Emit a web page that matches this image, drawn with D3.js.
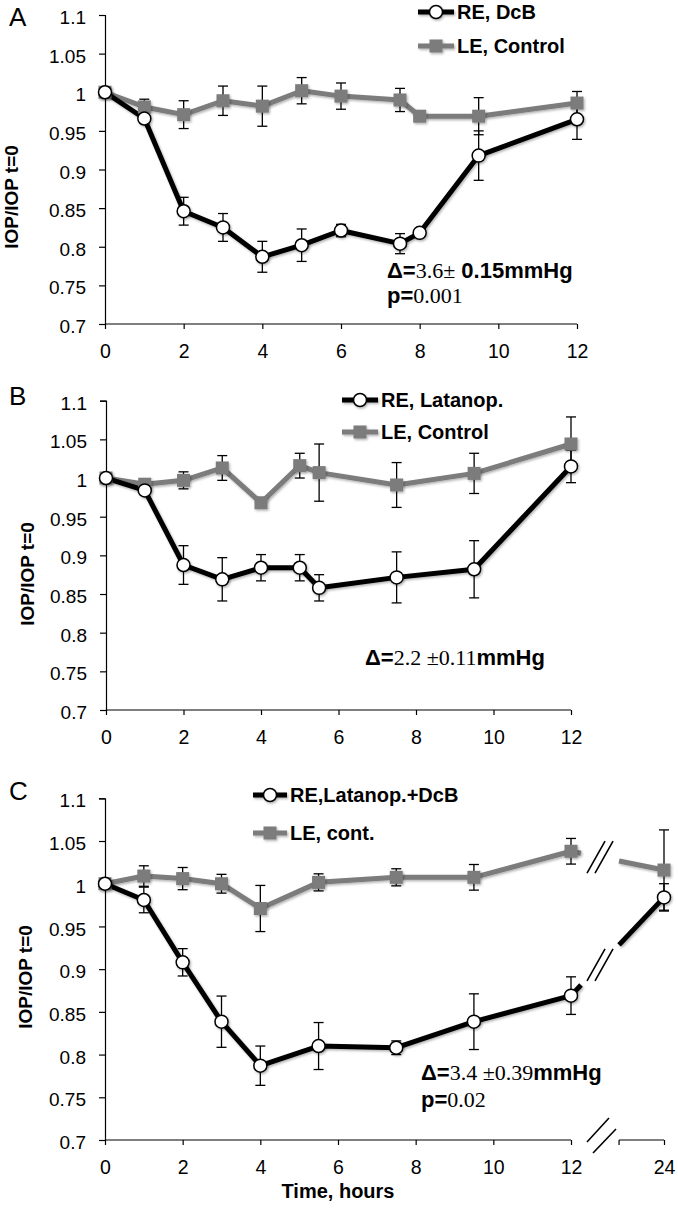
<!DOCTYPE html>
<html>
<head>
<meta charset="utf-8">
<script src="https://cdn.jsdelivr.net/npm/d3@7"></script>
<style>
  html, body { margin: 0; padding: 0; background: #fff; }
  svg { display: block; }
  .tick text { font-family: "Liberation Sans", Arial, sans-serif; fill: #000; }
</style>
</head>
<body>
<svg id="chart" width="678" height="1208"></svg>
<script>
// ---------------- DATA ----------------
const yTicks = [0.7, 0.75, 0.8, 0.85, 0.9, 0.95, 1, 1.05, 1.1];
const xTicks = [0, 2, 4, 6, 8, 10, 12];
const xTicksC = [0, 2, 4, 6, 8, 10, 12, 24];

// Panel A
const timeA = [0, 1, 2, 3, 4, 5, 6, 7.5, 8, 9.5, 12];
const reA = [1.0, 0.966, 0.846, 0.825, 0.787, 0.802, 0.821, 0.804, 0.818, 0.918, 0.965];
const reAErr = [0, 0, 0.018, 0.018, 0.02, 0.021, 0.008, 0.013, 0, 0.032, 0.026];
const leA = [1.0, 0.981, 0.971, 0.989, 0.982, 1.002, 0.995, 0.990, 0.969, 0.969, 0.986];
const leAErr = [0, 0.01, 0.018, 0.019, 0.026, 0.017, 0.017, 0.015, 0, 0.024, 0.015];
const legendA = ["RE, DcB", "LE, Control"];

// Panel B
const timeB = [0, 1, 2, 3, 4, 5, 5.5, 7.5, 9.5, 12];
const reB = [1.0, 0.984, 0.8875, 0.869, 0.884, 0.884, 0.858, 0.8715, 0.882, 1.015];
const reBErr = [0, 0, 0.025, 0.028, 0.017, 0.017, 0.017, 0.033, 0.037, 0.021];
const leB = [1.0, 0.992, 0.997, 1.013, 0.968, 1.016, 1.007, 0.991, 1.006, 1.044];
const leBErr = [0, 0, 0.011, 0.016, 0, 0.016, 0.037, 0.029, 0.026, 0.035];
const legendB = ["RE, Latanop.", "LE, Control"];

// Panel C
const timeC = [0, 1, 2, 3, 4, 5.5, 7.5, 9.5, 12, 24];
const reC = [1.0, 0.981, 0.908, 0.8385, 0.787, 0.81, 0.808, 0.8385, 0.869, 0.984];
const reCErr = [0, 0.015, 0.016, 0.030, 0.023, 0.0275, 0.008, 0.0326, 0.022, 0.016];
const leC = [1.0, 1.009, 1.006, 1.0, 0.971, 1.0016, 1.0075, 1.0075, 1.038, 1.016];
const leCErr = [0, 0.012, 0.013, 0.011, 0.027, 0.01, 0.01, 0.015, 0.015, 0.047];
const legendC = ["RE,Latanop.+DcB", "LE, cont."];

const yLabel = "IOP/IOP t=0";
const xLabel = "Time, hours";

// ---------------- STYLE ----------------
const SANS = '"Liberation Sans", Arial, Helvetica, sans-serif';
const SERIF = '"Liberation Serif", "Times New Roman", serif';
const GRAY = "#7b7b7b";

const svg = d3.select("#chart");
const defs = svg.append("defs");
const f = defs.append("filter").attr("id", "shadow").attr("filterUnits", "userSpaceOnUse")
  .attr("x", 0).attr("y", 0).attr("width", 678).attr("height", 1208);
f.append("feDropShadow").attr("dx", 1.2).attr("dy", 1.5).attr("stdDeviation", 1.2)
  .attr("flood-color", "#000").attr("flood-opacity", 0.3);

function zip(t, v, e) { return t.map((d, i) => ({ t: d, v: v[i], e: e[i] })); }

function drawPanel(cfg) {
  const g = svg.append("g");
  const x = cfg.x, y = cfg.y;
  const x0 = x.range()[0], xEnd = cfg.axisEnd;
  const yB = y.range()[0];

  // Y axis
  const ya = g.append("g").attr("transform", `translate(${x0},0)`)
    .call(d3.axisLeft(y).tickValues(yTicks).tickSize(6).tickPadding(13)
      .tickFormat(d => String(+d.toFixed(2))));
  ya.selectAll("text").attr("font-size", 19).attr("dy", "0.45em");
  ya.selectAll("path,line").attr("stroke", "#000").attr("stroke-width", 1.2);

  // X axis
  const xa = g.append("g").attr("transform", `translate(0,${yB})`)
    .call(d3.axisBottom(x).tickValues(cfg.xTicks).tickSize(5).tickPadding(15.5).tickSizeOuter(0));
  xa.selectAll("text").attr("font-size", 19.5);
  xa.selectAll("path,line").attr("stroke", "#000").attr("stroke-width", 1.2);
  xa.select(".domain").remove();
  xa.append("line").attr("x1", x0).attr("x2", xEnd).attr("y1", 0).attr("y2", 0)
    .attr("stroke", "#000").attr("stroke-width", 1.2);

  if (cfg.broken) {
    const xr = x(cfg.breakResume);
    const x24 = x(24);
    const xb = x(12);
    xa.append("line").attr("x1", xr).attr("x2", x24).attr("y1", 0).attr("y2", 0)
      .attr("stroke", "#000").attr("stroke-width", 1.2);
    xa.append("line").attr("x1", xr).attr("x2", xr).attr("y1", 0).attr("y2", 5)
      .attr("stroke", "#000").attr("stroke-width", 1.2);
    // break slashes on axis
    [[16, 2, 38, -22], [22, 13, 45, -11]].forEach(s => {
      xa.append("line").attr("x1", xb + s[0]).attr("y1", s[1]).attr("x2", xb + s[2]).attr("y2", s[3])
        .attr("stroke", "#000").attr("stroke-width", 1.6);
    });
  }

  const series = [
    { data: zip(cfg.time, cfg.le, cfg.leErr), color: GRAY, marker: "square" },
    { data: zip(cfg.time, cfg.re, cfg.reErr), color: "#000", marker: "circle" }
  ];

  const line = d3.line().x(d => x(d.t)).y(d => y(d.v));

  series.forEach(s => {
    let pts = s.data;
    if (cfg.broken) {
      const main = pts.filter(d => d.t <= 12);
      g.append("path").attr("d", line(main)).attr("fill", "none")
        .attr("stroke", s.color).attr("stroke-width", 5).attr("stroke-linejoin", "round")
        .attr("filter", "url(#shadow)");
      // broken segment 12 -> 24
      const a = pts.find(d => d.t === 12), b = pts.find(d => d.t === 24);
      const ax = x(a.t), ay = y(a.v), bx = x(b.t), by = y(b.v);
      const lerp = px => ay + (by - ay) * (px - ax) / (bx - ax);
      const gap1 = ax + 10, gap2 = x(cfg.breakResume);
      g.append("line").attr("x1", ax).attr("y1", ay).attr("x2", gap1).attr("y2", lerp(gap1))
        .attr("stroke", s.color).attr("stroke-width", 5).attr("filter", "url(#shadow)");
      g.append("line").attr("x1", gap2).attr("y1", lerp(gap2)).attr("x2", bx).attr("y2", by)
        .attr("stroke", s.color).attr("stroke-width", 5).attr("filter", "url(#shadow)");
      const cx = (gap1 + gap2) / 2, cy = lerp(cx);
      [-4, 4].forEach(o => {
        g.append("line").attr("x1", cx + o - 9).attr("y1", cy + 16).attr("x2", cx + o + 9).attr("y2", cy - 16)
          .attr("stroke", "#000").attr("stroke-width", 1.6);
      });
    } else {
      g.append("path").attr("d", line(pts)).attr("fill", "none")
        .attr("stroke", s.color).attr("stroke-width", 5).attr("stroke-linejoin", "round")
        .attr("filter", "url(#shadow)");
    }
  });

  // error bars
  series.forEach(s => {
    const eb = g.append("g").attr("stroke", "#000").attr("stroke-width", 1.3);
    s.data.filter(d => d.e > 0).forEach(d => {
      const cx = x(d.t), y1 = y(d.v + d.e), y2 = y(d.v - d.e);
      eb.append("line").attr("x1", cx).attr("x2", cx).attr("y1", y1).attr("y2", y2);
      eb.append("line").attr("x1", cx - 5).attr("x2", cx + 5).attr("y1", y1).attr("y2", y1);
      eb.append("line").attr("x1", cx - 5).attr("x2", cx + 5).attr("y1", y2).attr("y2", y2);
    });
  });

  // markers
  series.forEach(s => {
    const mg = g.append("g").attr("filter", "url(#shadow)");
    s.data.forEach(d => {
      if (s.marker === "square") {
        mg.append("rect").attr("x", x(d.t) - 6.5).attr("y", y(d.v) - 6.5)
          .attr("width", 13).attr("height", 13).attr("fill", GRAY);
      } else {
        mg.append("circle").attr("cx", x(d.t)).attr("cy", y(d.v)).attr("r", 6.5)
          .attr("fill", "#fff").attr("stroke", "#000").attr("stroke-width", 1.5);
      }
    });
  });

  // legend
  const L = cfg.legend;
  [[0, "#000", "circle"], [1, GRAY, "square"]].forEach(([i, col, m]) => {
    const ly = L.y[i];
    const lg = g.append("g").attr("filter", "url(#shadow)");
    lg.append("line").attr("x1", L.x1).attr("x2", L.x2).attr("y1", ly).attr("y2", ly)
      .attr("stroke", col).attr("stroke-width", 5);
    const mx = (L.x1 + L.x2) / 2;
    if (m === "circle") {
      lg.append("circle").attr("cx", mx).attr("cy", ly).attr("r", 6.5).attr("fill", "#fff")
        .attr("stroke", "#000").attr("stroke-width", 1.5);
    } else {
      lg.append("rect").attr("x", mx - 6.5).attr("y", ly - 6.5).attr("width", 13).attr("height", 13)
        .attr("fill", GRAY);
    }
    g.append("text").attr("x", L.x2 + 3).attr("y", ly + 7).attr("font-family", SANS)
      .attr("font-weight", "bold").attr("font-size", 20).text(cfg.legendText[i]);
  });

  // panel letter
  g.append("text").attr("x", 9).attr("y", cfg.letterY).attr("font-family", SANS)
    .attr("font-size", 26).text(cfg.letter);

  // y label
  g.append("text").attr("transform", `translate(${cfg.yLabelX},${cfg.yLabelY}) rotate(-90)`)
    .attr("text-anchor", "middle").attr("font-family", SANS).attr("font-weight", "bold")
    .attr("font-size", 19).text(yLabel);

  // annotation
  cfg.notes.forEach(n => {
    const t = g.append("text").attr("x", n.x).attr("y", n.y).attr("font-size", 22);
    n.parts.forEach(p => {
      t.append("tspan").attr("font-family", p[1] === "serif" ? SERIF : SANS)
        .attr("font-weight", p[1] === "serif" ? "normal" : "bold").text(p[0]);
    });
  });
  return g;
}

// Panel A
drawPanel({
  x: d3.scaleLinear().domain([0, 12]).range([105, 577]),
  y: d3.scaleLinear().domain([0.7, 1.1]).range([324, 15]),
  axisEnd: 577, xTicks: xTicks,
  time: timeA, re: reA, reErr: reAErr, le: leA, leErr: leAErr,
  legend: { x1: 418, x2: 454, y: [12, 46] }, legendText: legendA,
  letter: "A", letterY: 26, yLabelX: 18, yLabelY: 197,
  notes: [
    { x: 387, y: 278, parts: [["Δ=", "sans"], ["3.6±", "serif"], [" 0.15mmHg", "sans"]] },
    { x: 387, y: 303, parts: [["p=", "sans"], ["0.001", "serif"]] }
  ]
});

// Panel B
drawPanel({
  x: d3.scaleLinear().domain([0, 12]).range([106, 571]),
  y: d3.scaleLinear().domain([0.7, 1.1]).range([710, 400.7]),
  axisEnd: 571, xTicks: xTicks,
  time: timeB, re: reB, reErr: reBErr, le: leB, leErr: leBErr,
  legend: { x1: 342, x2: 378, y: [400, 432] }, legendText: legendB,
  letter: "B", letterY: 405, yLabelX: 34, yLabelY: 574,
  notes: [
    { x: 365, y: 665, parts: [["Δ=", "sans"], ["2.2 ±0.11", "serif"], ["mmHg", "sans"]] }
  ]
});

// Panel C
drawPanel({
  x: d3.scaleLinear().domain([0, 12, 24]).range([105, 571, 664]),
  y: d3.scaleLinear().domain([0.7, 1.1]).range([1140, 798.3]),
  axisEnd: 571, xTicks: xTicksC, broken: true, breakResume: 18.2,
  time: timeC, re: reC, reErr: reCErr, le: leC, leErr: leCErr,
  legend: { x1: 253, x2: 287, y: [795, 833] }, legendText: legendC,
  letter: "C", letterY: 800, yLabelX: 32, yLabelY: 977,
  notes: [
    { x: 421, y: 1080, parts: [["Δ=", "sans"], ["3.4 ±0.39", "serif"], ["mmHg", "sans"]] },
    { x: 421, y: 1107, parts: [["p=", "sans"], ["0.02", "serif"]] }
  ]
});

svg.append("text").attr("x", 338).attr("y", 1198).attr("text-anchor", "middle")
  .attr("font-family", SANS).attr("font-weight", "bold").attr("font-size", 20).text(xLabel);
</script>
</body>
</html>
